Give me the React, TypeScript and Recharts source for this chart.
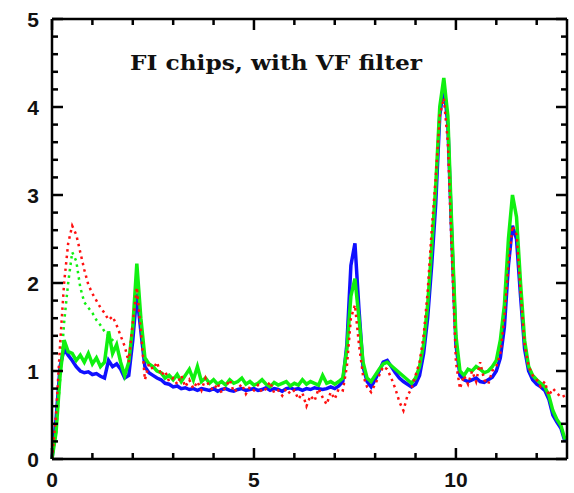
import React from 'react';
import { LineChart, Line, XAxis, YAxis } from 'recharts';

// energy grid (keV), one sample per 0.1
const energy = Array.from({ length: 128 }, (_, i) => i / 10);

const blueSolid = [
  0, 0.45, 1.05, 1.25, 1.18, 1.12, 1.05, 1.0, 0.98, 0.99,
  0.96, 0.97, 0.94, 0.92, 1.12, 1.05, 1.08, 1.02, 0.92, 0.95,
  1.35, 1.88, 1.45, 1.05, 0.98, 0.95, 0.92, 0.9, 0.86, 0.85,
  0.82, 0.83, 0.8, 0.81, 0.79, 0.8, 0.78, 0.8, 0.79, 0.78,
  0.8, 0.77, 0.79, 0.8, 0.78, 0.77, 0.79, 0.8, 0.78, 0.79,
  0.8, 0.78, 0.79, 0.81, 0.78, 0.8, 0.79, 0.77, 0.8, 0.81,
  0.79, 0.8, 0.78, 0.8, 0.79, 0.81, 0.8, 0.79, 0.8, 0.82,
  0.8, 0.83, 0.88, 1.3, 2.2, 2.45, 1.7, 1.05, 0.88, 0.82,
  0.9, 1.0, 1.1, 1.12, 1.05, 0.98, 0.92, 0.88, 0.85, 0.82,
  0.85, 0.95, 1.2, 1.6, 2.2, 2.9, 3.9, 4.25, 3.8, 2.5,
  1.3, 0.95, 0.9, 0.88, 0.9, 0.92, 0.88, 0.87, 0.9, 0.93,
  1.0, 1.15, 1.5, 2.2, 2.65, 2.5, 1.85, 1.25, 1.0, 0.9,
  0.85, 0.82, 0.78, 0.68, 0.5, 0.42, 0.35, 0.2,
];

const greenSolid = [
  0, 0.3, 0.95, 1.35, 1.22, 1.2, 1.12, 1.18, 1.1, 1.2,
  1.08, 1.15, 1.05, 1.1, 1.45, 1.2, 1.3, 1.1, 0.95, 1.1,
  1.5, 2.22, 1.6, 1.15, 1.08, 1.05, 1.0, 0.98, 0.92, 0.95,
  0.9, 0.96, 0.88, 0.95, 1.02, 0.9, 1.05, 0.88, 0.92, 0.86,
  0.9, 0.85, 0.88, 0.84, 0.9, 0.86, 0.88, 0.92, 0.85, 0.88,
  0.84, 0.86, 0.9, 0.85, 0.82, 0.87, 0.84, 0.86, 0.88, 0.83,
  0.86, 0.84, 0.9, 0.85, 0.88, 0.86, 0.84, 0.95, 0.86, 0.88,
  0.85, 0.88, 0.92, 1.25, 1.85, 2.05, 1.6, 1.1, 0.92, 0.88,
  0.95, 1.02, 1.08, 1.1, 1.06, 1.02, 0.98, 0.94, 0.9, 0.86,
  0.92, 1.05, 1.3, 1.75, 2.4, 3.1, 4.0, 4.33, 3.9, 2.6,
  1.4, 1.0, 0.95, 1.02, 1.0, 1.05, 1.02, 0.98, 1.0, 1.05,
  1.12, 1.35, 1.75, 2.5, 3.0, 2.75, 2.0, 1.35, 1.05, 0.95,
  0.9, 0.86, 0.82, 0.72, 0.55, 0.45, 0.38, 0.22,
];

const redDotted = [
  0, 0.5, 1.3, 2.0, 2.45, 2.65, 2.55, 2.35, 2.15, 1.98,
  1.88, 1.8, 1.72, 1.66, 1.58, 1.62, 1.52, 1.4, 1.28, 1.1,
  1.55, 1.95, 1.45, 0.9, 1.08, 1.02, 1.1, 0.95, 1.0, 0.88,
  0.92, 0.85, 0.95, 0.82, 0.9, 0.8, 0.88, 0.78, 0.92, 0.82,
  0.78, 0.86, 0.75, 0.82, 0.9, 0.76, 0.8, 0.85, 0.74, 0.82,
  0.78, 0.84, 0.76, 0.8, 0.88, 0.75, 0.78, 0.72, 0.8, 0.74,
  0.78, 0.68, 0.75, 0.6, 0.72, 0.66, 0.8, 0.7, 0.62, 0.76,
  0.68, 0.8, 0.78, 1.05, 1.6, 1.75, 1.3, 0.95, 0.82, 0.76,
  0.85, 0.95, 1.05, 1.02, 0.92, 0.8, 0.65, 0.55, 0.72, 0.8,
  0.95, 1.1, 1.4, 1.9, 2.6, 3.2, 3.9, 4.1, 3.6, 2.3,
  1.1, 0.8, 0.95, 0.85, 1.0, 0.88, 1.1, 0.9, 0.85, 1.0,
  1.05, 1.2, 1.6, 2.2, 2.65, 2.55, 1.9, 1.3, 1.05, 0.95,
  0.9, 0.82, 0.88, 0.72, 0.8, 0.75, 0.7, 0.72,
];

// second green chip, only separable at low energy
const greenDotted = [
  0, 0.3, 0.9, 1.55, 2.0, 2.35, 2.25, 1.95, 1.78, 1.72,
  1.66, 1.58, 1.52, 1.45, 1.4, 1.35, 1.3,
];

const xTicks = [0, 1, 2, 3, 4, 5, 6, 7, 8, 9, 10, 11, 12];
const yTicks = [0, 0.2, 0.4, 0.6, 0.8, 1, 1.2, 1.4, 1.6, 1.8, 2, 2.2, 2.4, 2.6, 2.8, 3, 3.2, 3.4, 3.6, 3.8, 4, 4.2, 4.4, 4.6, 4.8, 5];

const data = energy.map((e, i) => ({
  e,
  blue: blueSolid[i],
  green: greenSolid[i],
  red: redDotted[i],
  green2: i < greenDotted.length ? greenDotted[i] : null,
}));

const labelFont = { fontFamily: 'Liberation Sans, Arial, sans-serif', fontWeight: 700, fontSize: 21, fill: '#111' };

const isMajorX = (v: number) => Math.abs(v % 5) < 1e-6;
const isMajorY = (v: number) => Math.abs(v - Math.round(v)) < 1e-6;
const len = (major: boolean) => (major ? 11 : 6);

const BottomTick = (props: any) => {
  const { x, y, payload } = props;
  const major = isMajorX(payload.value);
  return (
    <g>
      <path d={`M${x},${y}V${y - len(major)}`} stroke="#000" strokeWidth={2.5} fill="none" />
      <text x={x} y={y + 28} textAnchor="middle" style={labelFont}>{major ? payload.value : ''}</text>
    </g>
  );
};

const TopTick = (props: any) => {
  const { x, y, payload } = props;
  const major = isMajorX(payload.value);
  return (
    <g>
      <path d={`M${x},${y}V${y + len(major)}`} stroke="#000" strokeWidth={2.5} fill="none" />
    </g>
  );
};

const LeftTick = (props: any) => {
  const { x, y, payload } = props;
  const major = isMajorY(payload.value);
  return (
    <g>
      <path d={`M${x},${y}H${x + len(major)}`} stroke="#000" strokeWidth={2.5} fill="none" />
      <text x={x - 13} y={y} dy="0.36em" textAnchor="end" style={labelFont}>{major ? payload.value : ''}</text>
    </g>
  );
};

const RightTick = (props: any) => {
  const { x, y, payload } = props;
  const major = isMajorY(payload.value);
  return (
    <g>
      <path d={`M${x},${y}H${x - len(major)}`} stroke="#000" strokeWidth={2.5} fill="none" />
    </g>
  );
};

export default function App() {
  return (
    <div style={{ position: 'absolute', left: 0, top: 0, background: '#fff' }}>
      <LineChart width={574} height={493} data={data} margin={{ top: 18, right: 6, bottom: 4, left: 12 }}>
        <XAxis xAxisId="bottom" dataKey="e" type="number" domain={[0, 12.75]} ticks={xTicks} interval={0}
          height={30} tickSize={0} tickMargin={0} stroke="#000" strokeWidth={2.5} tick={BottomTick} />
        <XAxis xAxisId="top" orientation="top" dataKey="e" type="number" domain={[0, 12.75]} ticks={xTicks} interval={0}
          height={1} tickSize={0} tickMargin={0} stroke="#000" strokeWidth={2.5} tick={TopTick} />
        <YAxis yAxisId="left" type="number" domain={[0, 5]} ticks={yTicks} interval={0}
          width={40} tickSize={0} tickMargin={0} stroke="#000" strokeWidth={2.5} tick={LeftTick} />
        <YAxis yAxisId="right" orientation="right" type="number" domain={[0, 5]} ticks={yTicks} interval={0}
          width={1} tickSize={0} tickMargin={0} stroke="#000" strokeWidth={2.5} tick={RightTick} />
        <Line xAxisId="bottom" yAxisId="left" dataKey="blue" type="linear" stroke="#1010ff" strokeWidth={3.5} dot={false} isAnimationActive={false} />
        <Line xAxisId="bottom" yAxisId="left" dataKey="green" type="linear" stroke="#10f010" strokeWidth={3.5} dot={false} isAnimationActive={false} />
        <Line xAxisId="bottom" yAxisId="left" dataKey="green2" type="linear" stroke="#10f010" strokeWidth={2.5} strokeDasharray="2.5 4" dot={false} isAnimationActive={false} />
        <Line xAxisId="bottom" yAxisId="left" dataKey="red" type="linear" stroke="#ff1010" strokeWidth={2.5} strokeDasharray="2.5 4" dot={false} isAnimationActive={false} />
        <Line xAxisId="top" yAxisId="right" dataKey="blue" stroke="none" dot={false} activeDot={false} isAnimationActive={false} />
        <text x={130} y={70} textLength={292} lengthAdjust="spacingAndGlyphs"
          style={{ fontFamily: 'DejaVu Serif, serif', fontWeight: 700, fontSize: 20, fill: '#111' }}>
          FI chips, with VF filter
        </text>
      </LineChart>
    </div>
  );
}
